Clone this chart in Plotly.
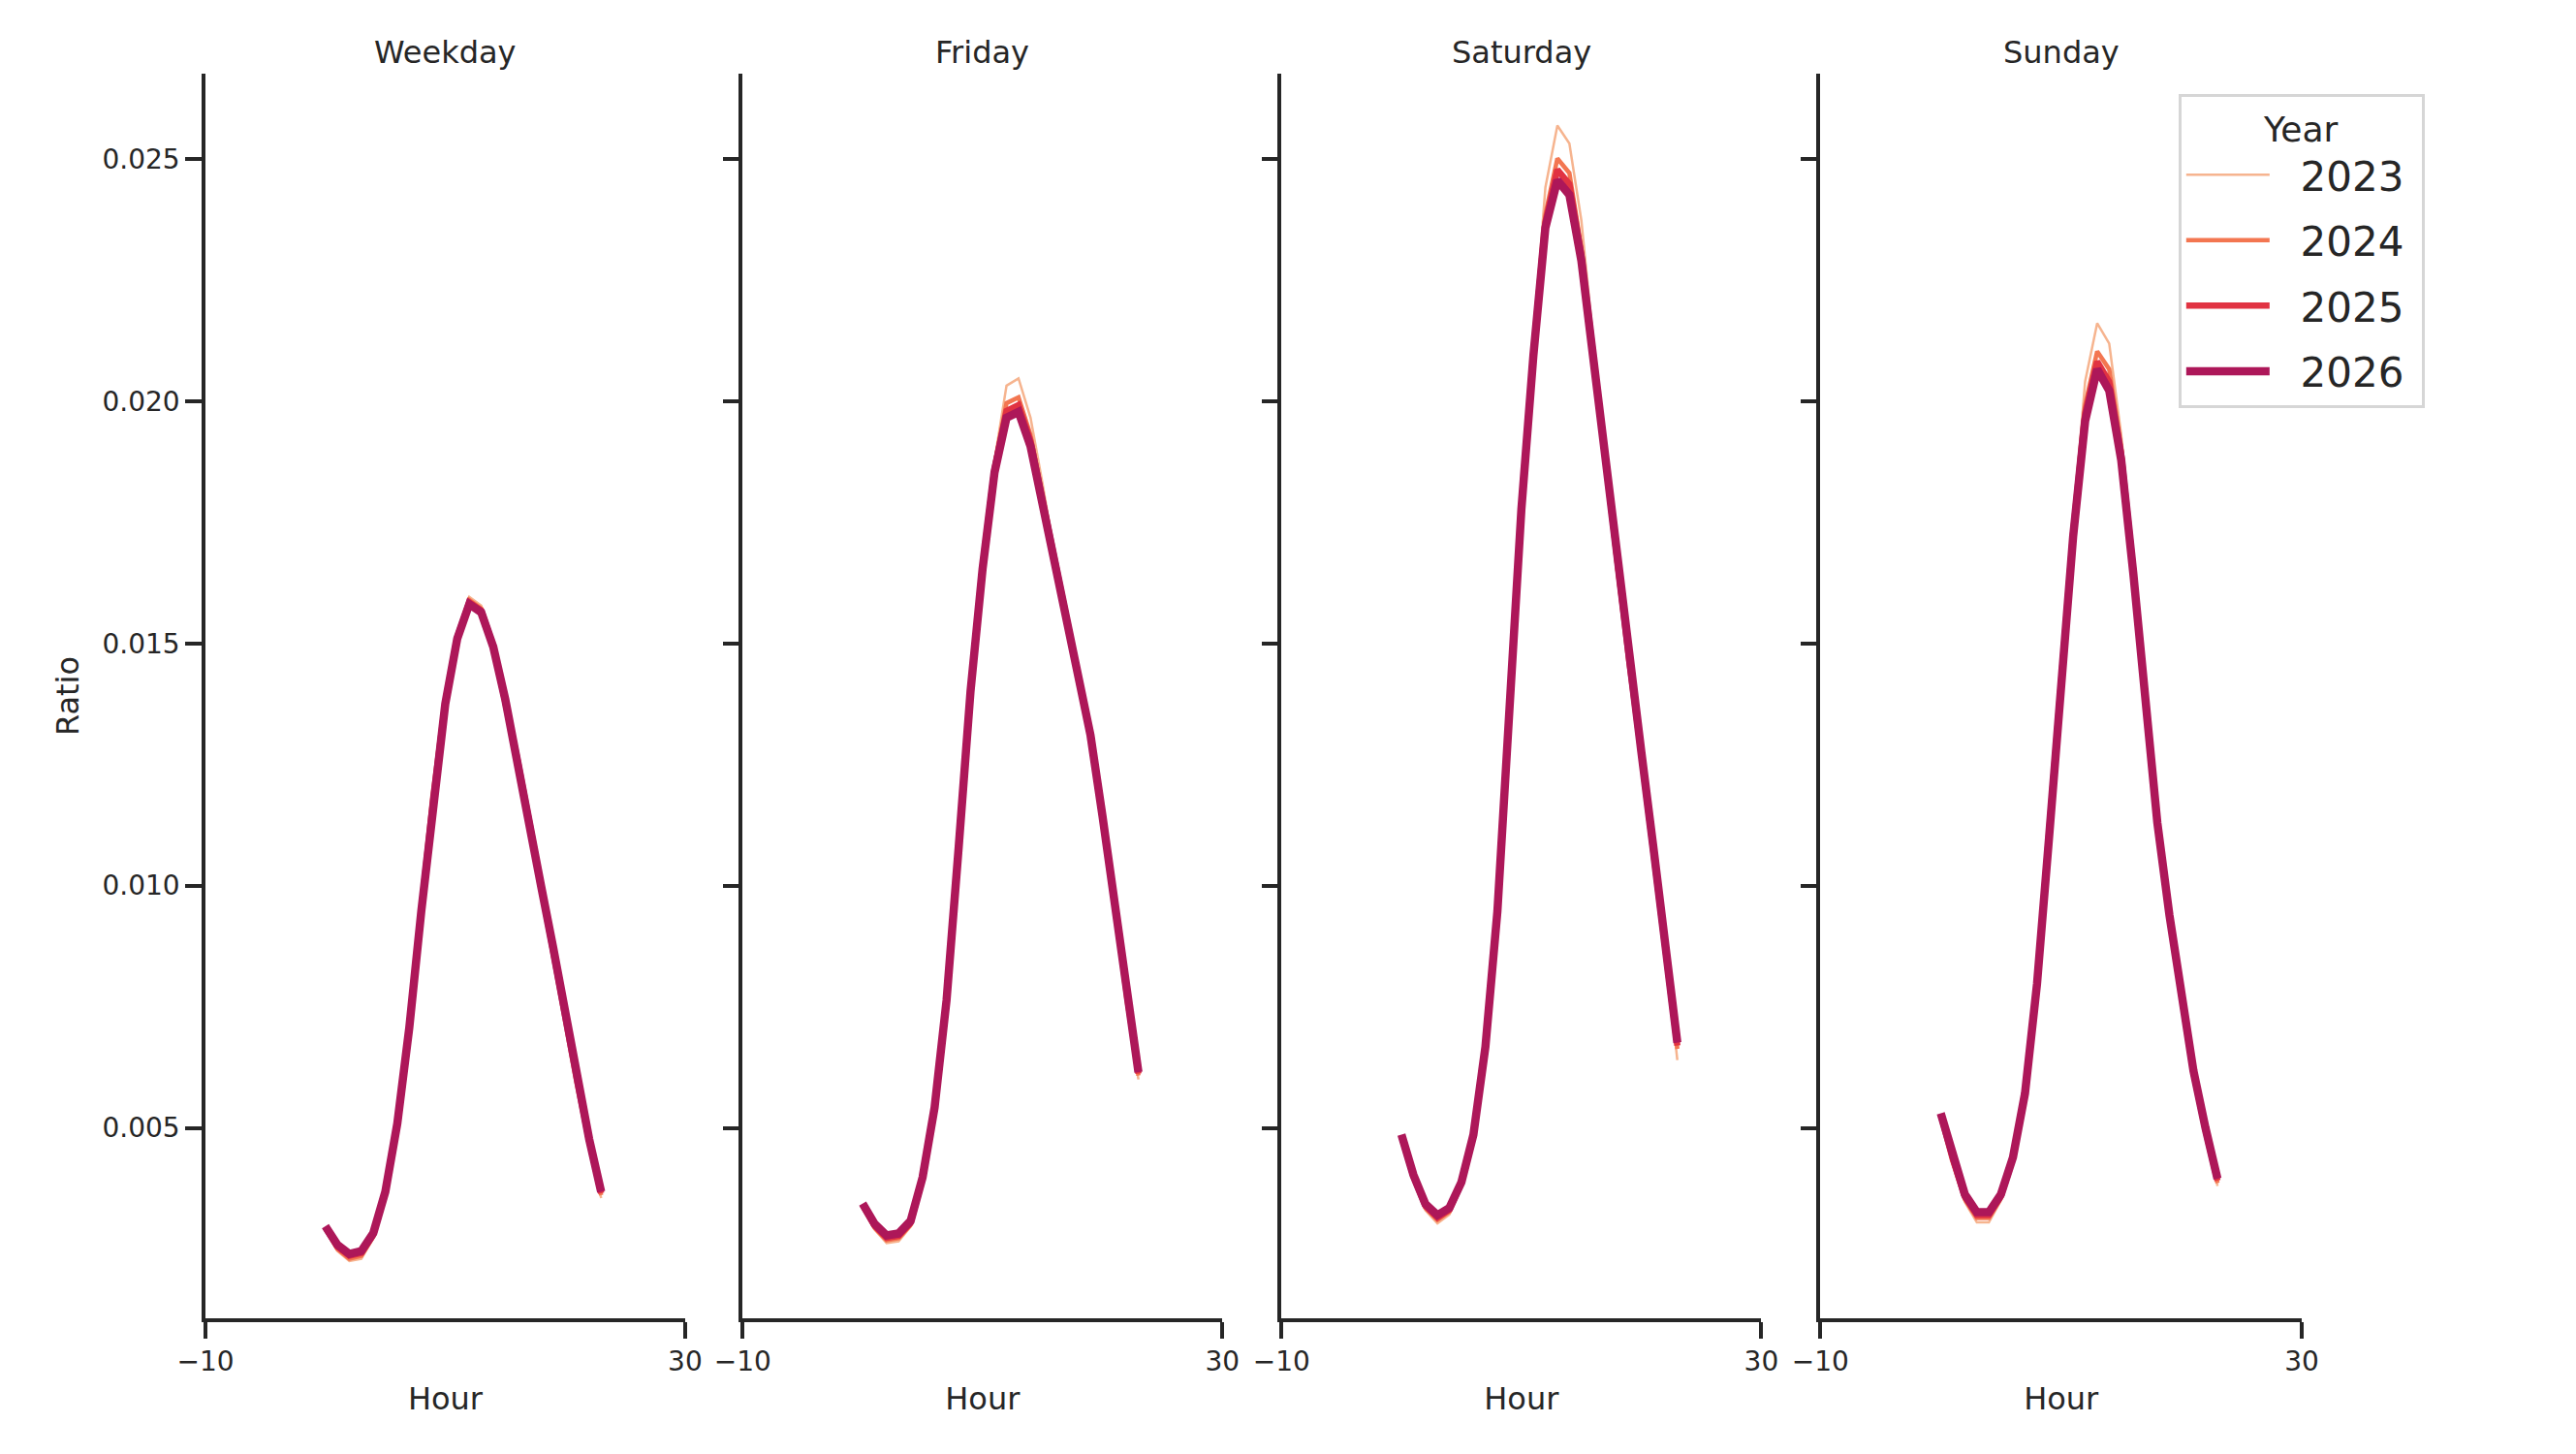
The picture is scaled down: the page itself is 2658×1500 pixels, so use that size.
import plotly.graph_objects as go

# hour of day (0-23) and the share of daily volume per hour
hours = list(range(24))
years = ['2023', '2024', '2025', '2026']
panels = ['Weekday', 'Friday', 'Saturday', 'Sunday']

weekday_2023 = [0.00290, 0.00246, 0.00225, 0.00230, 0.00272, 0.00362, 0.00507, 0.00710, 0.00952, 0.01189, 0.01385, 0.01522,
                0.01596, 0.01578, 0.01500, 0.01388, 0.01262, 0.01130, 0.00991, 0.00865, 0.00729, 0.00589, 0.00467, 0.00355]
weekday_2024 = [0.00292, 0.00250, 0.00230, 0.00236, 0.00276, 0.00365, 0.00508, 0.00709, 0.00950, 0.01186, 0.01381, 0.01517,
                0.01590, 0.01572, 0.01497, 0.01387, 0.01263, 0.01132, 0.00994, 0.00868, 0.00732, 0.00593, 0.00471, 0.00361]
weekday_2025 = [0.00295, 0.00255, 0.00236, 0.00242, 0.00280, 0.00367, 0.00509, 0.00708, 0.00948, 0.01183, 0.01378, 0.01513,
                0.01585, 0.01568, 0.01495, 0.01386, 0.01263, 0.01133, 0.00996, 0.00870, 0.00735, 0.00596, 0.00474, 0.00365]
weekday_2026 = [0.00297, 0.00259, 0.00240, 0.00246, 0.00283, 0.00368, 0.00509, 0.00707, 0.00947, 0.01181, 0.01375, 0.01510,
                0.01581, 0.01564, 0.01493, 0.01385, 0.01263, 0.01134, 0.00998, 0.00872, 0.00737, 0.00598, 0.00477, 0.00368]

friday_2023 = [0.00335, 0.00290, 0.00262, 0.00266, 0.00296, 0.00392, 0.00539, 0.00768, 0.01083, 0.01412, 0.01670, 0.01878,
               0.02032, 0.02047, 0.01966, 0.01830, 0.01685, 0.01553, 0.01438, 0.01307, 0.01137, 0.00959, 0.00760, 0.00600]
friday_2024 = [0.00338, 0.00294, 0.00268, 0.00272, 0.00300, 0.00394, 0.00540, 0.00766, 0.01080, 0.01408, 0.01663, 0.01867,
               0.01996, 0.02008, 0.01930, 0.01805, 0.01674, 0.01549, 0.01437, 0.01309, 0.01140, 0.00963, 0.00765, 0.00608]
friday_2025 = [0.00341, 0.00298, 0.00273, 0.00277, 0.00304, 0.00396, 0.00541, 0.00765, 0.01078, 0.01405, 0.01658, 0.01860,
               0.01980, 0.01992, 0.01918, 0.01798, 0.01670, 0.01547, 0.01437, 0.01310, 0.01142, 0.00966, 0.00768, 0.00612]
friday_2026 = [0.00344, 0.00302, 0.00278, 0.00282, 0.00308, 0.00398, 0.00542, 0.00764, 0.01076, 0.01402, 0.01653, 0.01853,
               0.01966, 0.01978, 0.01907, 0.01791, 0.01666, 0.01545, 0.01437, 0.01311, 0.01144, 0.00969, 0.00771, 0.00615]

saturday_2023 = [0.00480, 0.00393, 0.00330, 0.00303, 0.00321, 0.00381, 0.00483, 0.00668, 0.00951, 0.01358, 0.01798, 0.02125,
                 0.02441, 0.02569, 0.02532, 0.02373, 0.02120, 0.01872, 0.01654, 0.01457, 0.01266, 0.01070, 0.00865, 0.00640]
saturday_2024 = [0.00482, 0.00397, 0.00335, 0.00310, 0.00327, 0.00384, 0.00484, 0.00667, 0.00949, 0.01353, 0.01788, 0.02108,
                 0.02385, 0.02501, 0.02471, 0.02315, 0.02099, 0.01865, 0.01653, 0.01460, 0.01270, 0.01074, 0.00870, 0.00663]
saturday_2025 = [0.00484, 0.00400, 0.00339, 0.00315, 0.00331, 0.00386, 0.00485, 0.00667, 0.00948, 0.01350, 0.01782, 0.02100,
                 0.02370, 0.02478, 0.02448, 0.02302, 0.02092, 0.01862, 0.01653, 0.01462, 0.01273, 0.01077, 0.00874, 0.00670]
saturday_2026 = [0.00486, 0.00403, 0.00343, 0.00320, 0.00335, 0.00388, 0.00486, 0.00667, 0.00947, 0.01347, 0.01777, 0.02094,
                 0.02358, 0.02456, 0.02426, 0.02290, 0.02086, 0.01860, 0.01653, 0.01464, 0.01276, 0.01080, 0.00878, 0.00676]

sunday_2023 = [0.00522, 0.00426, 0.00347, 0.00305, 0.00305, 0.00350, 0.00432, 0.00570, 0.00800, 0.01108, 0.01445, 0.01750,
               0.02041, 0.02161, 0.02119, 0.01930, 0.01665, 0.01379, 0.01126, 0.00933, 0.00770, 0.00607, 0.00487, 0.00380]
sunday_2024 = [0.00525, 0.00431, 0.00353, 0.00314, 0.00314, 0.00355, 0.00435, 0.00571, 0.00799, 0.01104, 0.01436, 0.01737,
               0.01992, 0.02103, 0.02066, 0.01905, 0.01656, 0.01377, 0.01128, 0.00936, 0.00774, 0.00611, 0.00492, 0.00386]
sunday_2025 = [0.00528, 0.00435, 0.00358, 0.00320, 0.00320, 0.00359, 0.00437, 0.00571, 0.00798, 0.01101, 0.01430, 0.01728,
               0.01975, 0.02082, 0.02040, 0.01890, 0.01650, 0.01376, 0.01129, 0.00938, 0.00777, 0.00615, 0.00496, 0.00391]
sunday_2026 = [0.00530, 0.00439, 0.00363, 0.00326, 0.00326, 0.00363, 0.00439, 0.00571, 0.00797, 0.01099, 0.01425, 0.01720,
               0.01959, 0.02066, 0.02022, 0.01878, 0.01645, 0.01375, 0.01130, 0.00940, 0.00780, 0.00618, 0.00500, 0.00395]

ratio = {
    'Weekday': dict(zip(years, [weekday_2023, weekday_2024, weekday_2025, weekday_2026])),
    'Friday': dict(zip(years, [friday_2023, friday_2024, friday_2025, friday_2026])),
    'Saturday': dict(zip(years, [saturday_2023, saturday_2024, saturday_2025, saturday_2026])),
    'Sunday': dict(zip(years, [sunday_2023, sunday_2024, sunday_2025, sunday_2026])),
}

y_ticks = [0.005, 0.010, 0.015, 0.020, 0.025]

# rocket palette, light -> dark, thin -> thick
colors = {'2023': '#f6b48f', '2024': '#f37651', '2025': '#e13342', '2026': '#ad1759'}
widths = {'2023': 2.5, '2024': 4.5, '2025': 6.5, '2026': 8.5}

ink = '#262626'
font_family = 'DejaVu Sans'

# the page body adds an 8px margin, so the figure is 8px smaller than the window
x_domains = [[0.0, 0.2288], [0.2563, 0.4851], [0.5133, 0.7422], [0.7704, 1.0]]

fig = go.Figure()

for i, panel in enumerate(panels):
    suffix = '' if i == 0 else str(i + 1)
    for yr in years:
        fig.add_trace(go.Scatter(x=hours,
                                 y=ratio[panel][yr],
                                 mode='lines',
                                 name='\u00a0\u00a0' + yr + '\u00a0',
                                 legendgroup=yr,
                                 showlegend=(i == 0),
                                 line=dict(color=colors[yr], width=widths[yr]),
                                 xaxis='x' + suffix,
                                 yaxis='y' + suffix))

    fig.layout['xaxis' + suffix] = dict(domain=x_domains[i],
                                        anchor='y' + suffix,
                                        range=[-10, 30],
                                        tickvals=[-10, 30],
                                        ticktext=['\u221210', '30'],
                                        ticks='outside',
                                        ticklen=17,
                                        tickwidth=3.5,
                                        tickcolor=ink,
                                        tickfont=dict(size=28, color=ink),
                                        showline=True,
                                        linecolor=ink,
                                        linewidth=3.5,
                                        showgrid=False,
                                        zeroline=False,
                                        title=dict(text='Hour', standoff=12,
                                                   font=dict(size=32, color=ink)))

    fig.layout['yaxis' + suffix] = dict(domain=[0, 1],
                                        anchor='x' + suffix,
                                        range=[0.00107, 0.02676],
                                        tickvals=y_ticks,
                                        ticktext=['%.3f' % v for v in y_ticks],
                                        showticklabels=(i == 0),
                                        ticks='outside',
                                        ticklen=17,
                                        tickwidth=3.5,
                                        tickcolor=ink,
                                        tickfont=dict(size=28, color=ink),
                                        showline=True,
                                        linecolor=ink,
                                        linewidth=3.5,
                                        showgrid=False,
                                        zeroline=False,
                                        title=dict(text='Ratio' if i == 0 else '', standoff=15,
                                                   font=dict(size=32, color=ink)))

    # panel title above each facet
    fig.add_annotation(text=panel,
                       x=sum(x_domains[i]) / 2, y=1.0174,
                       xref='paper', yref='paper',
                       xanchor='center', yanchor='middle',
                       showarrow=False,
                       font=dict(size=32, color=ink))

fig.update_layout(width=2650,
                  height=1492,
                  margin=dict(l=204, r=283, t=68, b=140),
                  paper_bgcolor='white',
                  plot_bgcolor='white',
                  font=dict(family=font_family, color=ink),
                  legend=dict(x=0.9412, y=0.984,
                              xanchor='left', yanchor='top',
                              bgcolor='white',
                              bordercolor='#d6d6d6',
                              borderwidth=3,
                              itemwidth=86,
                              font=dict(size=42, color=ink),
                              title=dict(text='Year', side='top center',
                                         font=dict(size=36, color=ink))))

fig.write_html("out.html")
